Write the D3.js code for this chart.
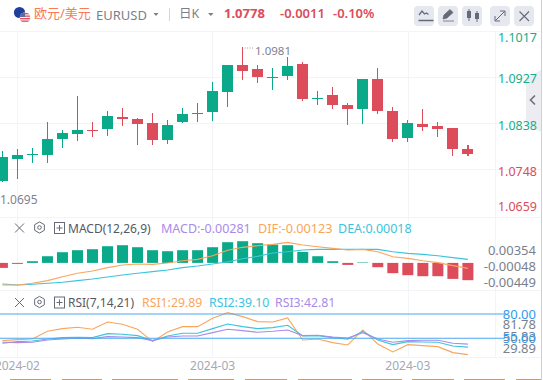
<!DOCTYPE html>
<html><head><meta charset="utf-8">
<script src="https://cdn.jsdelivr.net/npm/d3@7"></script>
<style>html,body{margin:0;padding:0;background:#fff;overflow:hidden}svg{display:block}text{font-family:"Noto Sans","Noto Sans CJK SC",sans-serif}</style>
</head><body><svg id="c" width="543" height="380"></svg>
<script>
const open_ = [1.07274,1.07694,1.07777,1.07771,1.08081,1.08177,1.08245,1.08274,1.08506,1.08467,1.08390,1.08061,1.08410,1.08570,1.08603,1.08990,1.09512,1.09434,1.09270,1.09299,1.09531,1.08860,1.08932,1.08738,1.08661,1.09241,1.08622,1.08100,1.08371,1.08332,1.08294,1.07887];
const close_ = [1.07732,1.07771,1.07791,1.08081,1.08197,1.08255,1.08226,1.08526,1.08467,1.08371,1.08061,1.08352,1.08564,1.08584,1.09009,1.09512,1.09396,1.09280,1.09280,1.09492,1.08854,1.08874,1.08738,1.08661,1.09241,1.08622,1.08081,1.08390,1.08313,1.08274,1.07887,1.07791];
const high_ = [1.07849,1.07887,1.07907,1.08410,1.08255,1.08912,1.08410,1.08622,1.08680,1.08487,1.08584,1.08448,1.08680,1.08777,1.09183,1.09512,1.09860,1.09512,1.09454,1.09667,1.09570,1.09009,1.09086,1.08777,1.09241,1.09454,1.08700,1.08448,1.08661,1.08410,1.08294,1.07965];
const low_ = [1.07255,1.07307,1.07616,1.07616,1.07907,1.08042,1.08119,1.08139,1.08332,1.07965,1.07965,1.07984,1.08390,1.08410,1.08429,1.08700,1.09222,1.09164,1.09028,1.09222,1.08816,1.08738,1.08661,1.08352,1.08371,1.08564,1.08023,1.08023,1.08235,1.08119,1.07752,1.07752];
const macdBar = [-.00122,-.00024,.00041,.00163,.00261,.00310,.00334,.00407,.00432,.00383,.00310,.00285,.00310,.00310,.00383,.00505,.00529,.00481,.00447,.00432,.00268,.00163,.00041,-.00049,.00012,-.00105,-.00251,-.00300,-.00325,-.00325,-.00390,-.00422];
const dif = [-.00539,-.00539,-.00498,-.00433,-.00336,-.00254,-.00198,-.00116,-.00051,-.00027,-.00035,-.00002,.00054,.00087,.00176,.00307,.00380,.00420,.00453,.00502,.00437,.00396,.00355,.00315,.00331,.00274,.00152,.00111,.00054,.00006,-.00067,-.00133];
const dea = [-.00515,-.00539,-.00523,-.00498,-.00474,-.00433,-.00393,-.00344,-.00295,-.00254,-.00214,-.00173,-.00116,-.00076,-.00027,.00030,.00103,.00160,.00241,.00274,.00315,.00331,.00331,.00331,.00331,.00331,.00274,.00233,.00209,.00176,.00128,.00087];
const rsi1 = [47.12,48.35,49.18,58.64,61.93,63.58,61.11,70.16,67.28,61.11,45.89,57.82,64.40,64.40,74.69,81.69,76.75,70.58,70.16,75.10,47.94,49.18,44.65,41.77,60.29,43.00,33.13,42.18,40.95,39.71,32.31,29.89];
const rsi2 = [43.83,45.89,46.71,49.18,50.82,51.23,50.82,55.76,54.94,53.29,47.12,52.88,56.17,56.17,61.93,67.69,64.40,61.93,63.17,66.05,52.88,53.29,50.82,48.77,58.64,47.94,42.18,45.89,45.47,45.06,40.54,39.10];
const rsi3 = [45.06,44.65,45.06,47.94,49.18,50,49.59,52.06,51.65,50.82,47.12,51.65,52.88,52.88,57.00,61.11,59.46,57.41,58.64,60.29,53.29,53.70,51.65,50.41,57.00,49.18,45.06,47.12,47.53,47.53,43.83,42.81];
const priceTicks = ["1.1017","1.0927","1.0838","1.0748","1.0659"];
const macdTicks = ["0.00354","-0.00048","-0.00449"];
const rsiTicks = ["81.78","55.83","29.89"];
const rsiLevels = ["80.00","50.00"];
const dateLabels = ["2024-02","2024-03","2024-03"];
const dateIdx = [1,14,27];

const GREEN="#0aa98a",RED="#dc4c5a",OR="#f9a65c",CY="#3cc4dc",PU="#a98be8",GRID="#f3f4f8",GT="#7b7f8c";
const svg=d3.select("#c");
const idx=d3.range(close_.length);
const x=d3.scaleLinear().domain([0,31]).range([2.4,467.9]);
const yP=d3.scaleLinear().domain([1.0927,1.0748]).range([77.5,170]);
const yM=d3.scaleLinear().domain([0,.00354]).range([262.9,248.4]);
const yR=d3.scaleLinear().domain([50,80]).range([338.3,314]);
const yRAxis=d3.scaleLinear().domain([29.89,81.78]).range([348.3,324.7]);
const priceLabelY=[38,78.5,125.5,171.5,207];

// grid
const g=svg.append("g").attr("stroke",GRID).attr("stroke-width",1).attr("shape-rendering","crispEdges");
[17.5,212.5,408.5].forEach(v=>g.append("line").attr("x1",v).attr("x2",v).attr("y1",31).attr("y2",358));
[31,77.5,123.5,169.5,217.5,290.5,357.5].forEach(v=>g.append("line").attr("x1",0).attr("x2",541).attr("y1",v).attr("y2",v));
g.append("line").attr("x1",495.5).attr("x2",495.5).attr("y1",31).attr("y2",358);
svg.append("line").attr("x1",541.5).attr("x2",541.5).attr("y1",0).attr("y2",380).attr("stroke","#cfd0d4").attr("stroke-width",1);

// side tab
svg.append("path").attr("d","M541 70 L526 78 V124 L541 132 Z").attr("fill","#ececf1");
svg.append("path").attr("d","M535 95.5 L530.5 100 L535 104.5").attr("fill","none").attr("stroke","#6d707c").attr("stroke-width",1.6);

// candles
const col=i=>close_[i]>=open_[i]?GREEN:RED;
const cg=svg.append("g").attr("shape-rendering","crispEdges");
cg.selectAll("line").data(idx).join("line")
 .attr("x1",i=>x(i)).attr("x2",i=>x(i)).attr("y1",i=>yP(high_[i])).attr("y2",i=>yP(low_[i]))
 .attr("stroke",col).attr("stroke-width",1.2);
cg.selectAll("rect").data(idx).join("rect")
 .attr("x",i=>x(i)-5.5).attr("width",11)
 .attr("y",i=>yP(Math.max(open_[i],close_[i])))
 .attr("height",i=>Math.max(1,Math.abs(yP(open_[i])-yP(close_[i]))))
 .attr("fill",col);
// macd bars
svg.append("g").selectAll("rect").data(idx).join("rect")
 .attr("x",i=>x(i)-5.5).attr("width",11)
 .attr("y",i=>Math.min(yM(0),yM(macdBar[i])))
 .attr("height",i=>Math.abs(yM(macdBar[i])-yM(0)))
 .attr("fill",i=>macdBar[i]>=0?GREEN:RED);
const pathM=d3.line().x((d,i)=>x(i)).y(d=>yM(d));
const pathR=d3.line().x((d,i)=>x(i)).y(d=>yR(d));
[[dea,CY],[dif,OR]].forEach(([d,c])=>svg.append("path").attr("d",pathM(d)).attr("fill","none").attr("stroke",c).attr("stroke-width",1.1));
[[rsi1,OR],[rsi2,CY],[rsi3,PU]].forEach(([d,c])=>svg.append("path").attr("d",pathR(d)).attr("fill","none").attr("stroke",c).attr("stroke-width",1.1));
// rsi levels
rsiLevels.forEach(v=>svg.append("line").attr("x1",0).attr("x2",505).attr("y1",yR(+v)).attr("y2",yR(+v)).attr("stroke","#4aa8f0").attr("stroke-width",1.1));

function T(tx,ty,s,c,fs,anchor){return svg.append("text").attr("x",tx).attr("y",ty).attr("dy","0.35em").attr("fill",c).attr("font-size",fs).attr("text-anchor",anchor||"start").text(s);}
// price labels
priceTicks.forEach((s,i)=>T(537,priceLabelY[i],s,+s>1.08?"#16ad8f":RED,12.5,"end"));
macdTicks.forEach((s,i)=>T(536,yM(+s)+1.6,s,GT,13,"end"));
rsiTicks.forEach(s=>T(536,yRAxis(+s),s,GT,13,"end"));
rsiLevels.forEach(s=>T(536,yR(+s),s,"#2f9bf0",13,"end"));
dateLabels.forEach((s,i)=>T(x(dateIdx[i]),366,s,"#a6a8b4",12,"middle"));
// extreme labels
T(255,51,"1.0981","#7f8290",11.5);
svg.append("line").attr("x1",x(16)+2).attr("x2",254).attr("y1",48).attr("y2",48).attr("stroke","#9a9da8").attr("stroke-dasharray","1 1.5");
T(0,200,"1.0695","#7f8290",12);

// header
svg.append("circle").attr("cx",19.5).attr("cy",12.5).attr("r",5.6).attr("fill","#1f3f9c");
const fl=svg.append("g");
fl.append("clipPath").attr("id","fc").append("circle").attr("cx",25).attr("cy",17.5).attr("r",5.3);
const fg=fl.append("g").attr("clip-path","url(#fc)");
fg.append("rect").attr("x",19).attr("y",12).attr("width",12).attr("height",11).attr("fill","#f4f0f0");
[13,15.5,18,20.5].forEach(v=>fg.append("rect").attr("x",19).attr("y",v).attr("width",12).attr("height",1.3).attr("fill","#e0525e"));
fg.append("rect").attr("x",19).attr("y",12).attr("width",6).attr("height",5).attr("fill","#5d6a9c");
T(34,13.5,"欧元/美元","#f97a55",13);
T(96,15,"EURUSD",GT,13);
svg.append("path").attr("d","M153.5 13 h5 l-2.5 3 z").attr("fill",GT);
svg.append("line").attr("x1",169.5).attr("x2",169.5).attr("y1",8).attr("y2",21).attr("stroke","#d4d6dc");
T(179,13.5,"日K",GT,12.5);
svg.append("path").attr("d","M208 13 h5.5 l-2.7 3 z").attr("fill",GT);
T(224,13.5,"1.0778",RED,13).attr("font-weight",700);
T(280,13.5,"-0.0011",RED,13).attr("font-weight",600);
T(333,13.5,"-0.10%",RED,13).attr("font-weight",600);

// toolbar
const btnX=[414,438,462,490,514];
svg.append("g").selectAll("rect").data(btnX).join("rect").attr("x",d=>d).attr("y",6).attr("width",20).attr("height",20).attr("rx",4).attr("fill","#e6e8ef");
const ic="#676a76";
svg.append("path").attr("d","M419 15 l3 -4 l2.5 3 l2 -1 l2 1.5 M418.5 20.5 h15").attr("fill","none").attr("stroke",ic).attr("stroke-width",1.3);
svg.append("path").attr("d","M443 19 l1 -4 l6 -5.5 l3 3 l-6 5.5 z M443 21 h11").attr("fill",ic).attr("stroke",ic).attr("stroke-width",.8);
svg.append("path").attr("d","M469 9 v12 M477 11 v11").attr("stroke",ic).attr("stroke-width",1);
svg.append("rect").attr("x",467).attr("y",11).attr("width",4).attr("height",7).attr("fill",ic);
svg.append("rect").attr("x",475).attr("y",13).attr("width",4).attr("height",6).attr("fill",ic);
svg.append("path").attr("d","M495.5 20.5 l9 -9 M500 11 h5 v5 M495 16 v5 h5").attr("fill","none").attr("stroke",ic).attr("stroke-width",1);
svg.append("path").attr("d","M519.5 11.5 l9.5 9.5 M529 11.5 l-9.5 9.5").attr("fill","none").attr("stroke",ic).attr("stroke-width",1.1);

// pane legends
function icons(y){
 svg.append("path").attr("d",`M15 ${y-4.5} l9 9 M24 ${y-4.5} l-9 9`).attr("stroke",ic).attr("stroke-width",1).attr("fill","none");
 const hx=d3.range(6).map(k=>[39.5+5.6*Math.sin(k*Math.PI/3),y-.5+5.6*Math.cos(k*Math.PI/3)]);
 svg.append("path").attr("d",d3.line()(hx)+"Z").attr("fill","none").attr("stroke",ic).attr("stroke-width",1);
 svg.append("circle").attr("cx",39.5).attr("cy",y-.5).attr("r",1.8).attr("fill","none").attr("stroke",ic).attr("stroke-width",1);
 svg.append("rect").attr("x",54.5).attr("y",y-5.5).attr("width",10).attr("height",11).attr("fill","none").attr("stroke",ic);
 svg.append("path").attr("d",`M56.5 ${y} h6 M59.5 ${y-3} v6`).attr("stroke",ic);
}
icons(228);
icons(302.5);
T(68,228.5,"MACD(12,26,9)","#555863",12);
T(161,228.5,"MACD:-0.00281",PU,12.5);
T(258,228.5,"DIF:-0.00123",OR,12.7);
T(338,228.5,"DEA:0.00018",CY,12.5);
T(68,303,"RSI(7,14,21)","#555863",12);
T(142,303,"RSI1:29.89",OR,12.3);
T(209,303,"RSI2:39.10",CY,12.3);
T(275,303,"RSI3:42.81",PU,12.3);

// bottom strips
const stripStart=[10,62,112,188,245,298,362,412,464,516];
const stripEnd=[51,102,178,234,287,352,402,454,505,541];
svg.append("g").selectAll("rect").data(stripStart).join("rect").attr("x",d=>d).attr("width",(d,i)=>stripEnd[i]-d).attr("y",379).attr("height",1).attr("fill","#c9a061");
</script></body></html>
